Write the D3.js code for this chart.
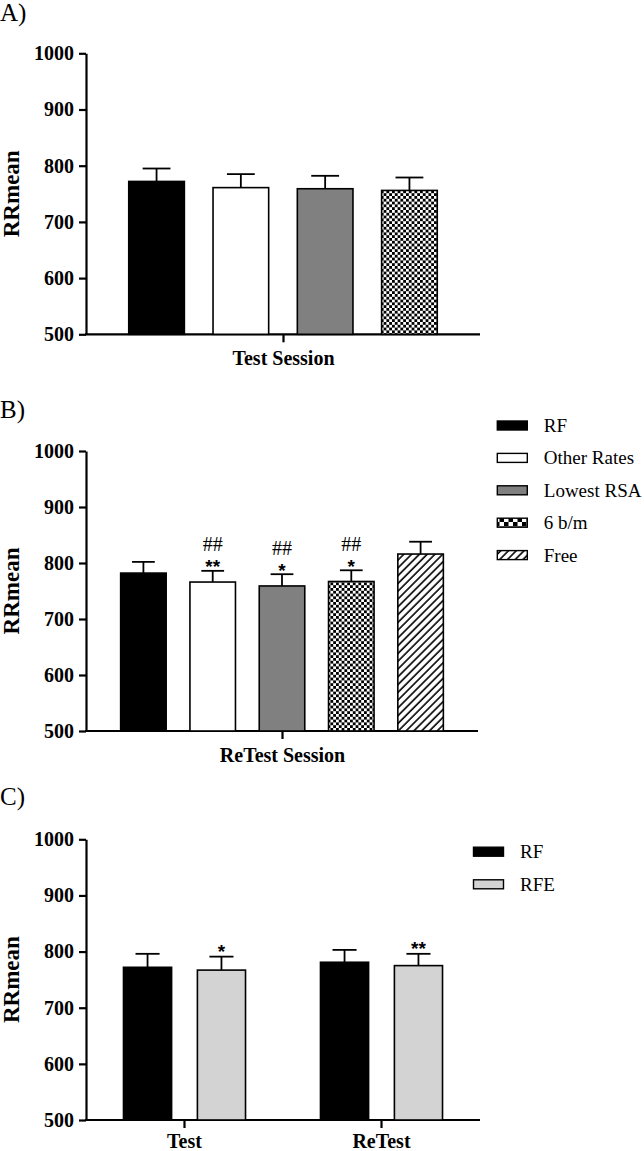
<!DOCTYPE html>
<html>
<head>
<meta charset="utf-8">
<script src="https://cdn.jsdelivr.net/npm/d3@7"></script>
<style>
  body { margin: 0; background: #fff; }
</style>
</head>
<body>
<script>
let w = 644;
let h = 1151;
let serif = "Liberation Serif, Times New Roman, serif";

// Data
let groups = ["RF", "Other Rates", "Lowest RSA", "6 b/m", "Free"];
let testMeans = [772, 761, 759, 756];
let testSem = [23, 24, 23, 23];
let retestMeans = [782, 766, 759, 767, 816];
let retestSem = [20, 20, 21, 20, 22];
let retestHash = ["", "##", "##", "##", ""];
let retestStars = ["", "**", "*", "*", ""];

let sessions = ["Test", "ReTest"];
let rfGroups = ["RF", "RFE"];
let rfMeans = [772, 781];
let rfSem = [24, 22];
let rfeMeans = [767, 775];
let rfeSem = [24, 21];
let rfeStars = ["*", "**"];

let yTicks = [500, 600, 700, 800, 900, 1000];

let fills = {
  "RF": "#000",
  "Other Rates": "#fff",
  "Lowest RSA": "#808080",
  "6 b/m": "url(#checker)",
  "Free": "url(#hatch)",
  "RFE": "#d3d3d3"
};
let legendFills = Object.assign({}, fills, { "6 b/m": "url(#checkerBig)" });

let svg = d3.select("body")
  .append("svg")
  .attr("width", w)
  .attr("height", h)
  .attr("font-family", serif);

// Patterns
let defs = svg.append("defs");
function checker(id, c) {
  let p = defs.append("pattern")
    .attr("id", id)
    .attr("patternUnits", "userSpaceOnUse")
    .attr("width", c * 2)
    .attr("height", c * 2);
  p.append("rect").attr("width", c * 2).attr("height", c * 2).attr("fill", "#fff");
  p.append("rect").attr("width", c).attr("height", c).attr("fill", "#000");
  p.append("rect").attr("x", c).attr("y", c).attr("width", c).attr("height", c).attr("fill", "#000");
}
checker("checker", 2.8);
checker("checkerBig", 4.5);

let hatch = defs.append("pattern")
  .attr("id", "hatch")
  .attr("patternUnits", "userSpaceOnUse")
  .attr("width", 5.5)
  .attr("height", 5.5)
  .attr("patternTransform", "rotate(45)");
hatch.append("rect").attr("width", 5.5).attr("height", 5.5).attr("fill", "#fff");
hatch.append("line")
  .attr("x1", 1).attr("y1", 0).attr("x2", 1).attr("y2", 5.5)
  .attr("stroke", "#000").attr("stroke-width", 1.6);

// Shared axis drawing
function drawAxes(top, bottom, left, right, xScale, letter, letterY, xPad) {
  let y = d3.scaleLinear().domain([500, 1000]).range([bottom, top]);

  let gy = svg.append("g")
    .attr("transform", "translate(" + left + ",0)")
    .call(d3.axisLeft(y).tickValues(yTicks).tickFormat(d3.format("d"))
      .tickSize(7).tickSizeOuter(0).tickPadding(5));
  gy.selectAll("path, line").attr("stroke", "#000").attr("stroke-width", 2.2);
  gy.selectAll("text")
    .attr("font-family", serif)
    .attr("font-weight", "bold")
    .attr("font-size", "20px")
    .attr("fill", "#000");

  let gx = svg.append("g")
    .attr("transform", "translate(0," + bottom + ")")
    .call(d3.axisBottom(xScale).tickSize(8).tickSizeOuter(0).tickPadding(xPad));
  gx.select("path").attr("d", "M" + (left - 1) + ",0H" + right);
  gx.selectAll("path, line").attr("stroke", "#000").attr("stroke-width", 2.2);
  gx.selectAll("text")
    .attr("font-family", serif)
    .attr("font-weight", "bold")
    .attr("font-size", "20px")
    .attr("fill", "#000");

  svg.append("text")
    .attr("transform", "translate(19," + (top + bottom) / 2 + ") rotate(-90)")
    .attr("text-anchor", "middle")
    .attr("font-weight", "bold")
    .attr("font-size", "23px")
    .text("RRmean");

  svg.append("text")
    .attr("x", 0)
    .attr("y", letterY)
    .attr("font-size", "25px")
    .text(letter);

  return y;
}

function drawBars(data, y, bandX, offset) {
  let bw = bandX.bandwidth();
  let g = svg.append("g");

  // error bars (upper only)
  g.selectAll("line.err")
    .data(data)
    .enter()
    .append("line")
    .attr("x1", d => offset(d) + bandX(d.key) + bw / 2)
    .attr("x2", d => offset(d) + bandX(d.key) + bw / 2)
    .attr("y1", d => y(d.value))
    .attr("y2", d => y(d.value + d.sem))
    .attr("stroke", "#000")
    .attr("stroke-width", 1.8);
  g.selectAll("line.cap")
    .data(data)
    .enter()
    .append("line")
    .attr("x1", d => offset(d) + bandX(d.key) + bw / 4)
    .attr("x2", d => offset(d) + bandX(d.key) + bw * 3 / 4)
    .attr("y1", d => y(d.value + d.sem))
    .attr("y2", d => y(d.value + d.sem))
    .attr("stroke", "#000")
    .attr("stroke-width", 1.8);

  g.selectAll("rect")
    .data(data)
    .enter()
    .append("rect")
    .attr("x", d => offset(d) + bandX(d.key))
    .attr("y", d => y(d.value))
    .attr("width", bw)
    .attr("height", d => y(500) - y(d.value))
    .attr("fill", d => fills[d.key])
    .attr("stroke", "#000")
    .attr("stroke-width", 1.6);

  // significance marks
  g.selectAll("text.hash")
    .data(data.filter(d => d.hash))
    .enter()
    .append("text")
    .attr("x", d => offset(d) + bandX(d.key) + bw / 2)
    .attr("y", d => y(d.value + d.sem) - 19.5)
    .attr("text-anchor", "middle")
    .attr("font-size", "20px")
    .text(d => d.hash);
  g.selectAll("text.star")
    .data(data.filter(d => d.star))
    .enter()
    .append("text")
    .attr("x", d => offset(d) + bandX(d.key) + bw / 2)
    .attr("y", d => y(d.value + d.sem) + d.starDy)
    .attr("text-anchor", "middle")
    .attr("font-family", "Liberation Sans, Arial, sans-serif")
    .attr("font-weight", "bold")
    .attr("font-size", "19px")
    .text(d => d.star);
}

function drawLegend(keys, x0, y0, step) {
  let lg = svg.append("g");
  lg.selectAll("rect")
    .data(keys)
    .enter()
    .append("rect")
    .attr("x", x0)
    .attr("y", (d, i) => y0 + i * step - 4.5)
    .attr("width", 30)
    .attr("height", 9)
    .attr("fill", d => legendFills[d])
    .attr("stroke", "#000")
    .attr("stroke-width", 1.4);
  lg.selectAll("text")
    .data(keys)
    .enter()
    .append("text")
    .attr("x", x0 + 46.5)
    .attr("y", (d, i) => y0 + i * step + 6.5)
    .attr("font-size", "19px")
    .text(d => d);
}

// Panel A
let xA = d3.scalePoint().domain(["Test Session"]).range([86, 480]).padding(0.5);
let yA = drawAxes(53.3, 334.3, 86, 480, xA, "A)", 21, 8.5);
let bandA = d3.scaleBand()
  .domain(groups.slice(0, 4))
  .range([86, 480])
  .paddingInner(0.34)
  .paddingOuter(0.507);
let dataA = testMeans.map((v, i) => ({ key: groups[i], value: v, sem: testSem[i] }));
drawBars(dataA, yA, bandA, d => 0);

// Panel B
let xB = d3.scalePoint().domain(["ReTest Session"]).range([86, 478]).padding(0.5);
let yB = drawAxes(451, 731, 86, 478, xB, "B)", 418, 8.5);
let bandB = d3.scaleBand()
  .domain(groups)
  .range([86, 478])
  .paddingInner(0.343)
  .paddingOuter(0.5);
let dataB = retestMeans.map((v, i) => ({
  key: groups[i], value: v, sem: retestSem[i],
  hash: retestHash[i], star: retestStars[i], starDy: 2.5
}));
drawBars(dataB, yB, bandB, d => 0);
drawLegend(groups, 497.3, 425.5, 32.4);

// Panel C
let xC = d3.scaleBand().domain(sessions).range([86, 480]).padding(0);
let yC = drawAxes(839.3, 1120, 86, 480, xC, "C)", 805, 6);
let bandC = d3.scaleBand()
  .domain(rfGroups)
  .range([0, xC.bandwidth()])
  .paddingInner(0.349)
  .paddingOuter(0.507);
let dataC = [];
sessions.forEach((s, i) => {
  dataC.push({ session: s, key: "RF", value: rfMeans[i], sem: rfSem[i] });
  dataC.push({ session: s, key: "RFE", value: rfeMeans[i], sem: rfeSem[i], star: rfeStars[i], starDy: 1 });
});
drawBars(dataC, yC, bandC, d => xC(d.session));
drawLegend(rfGroups, 473.5, 851.7, 32.6);
</script>
</body>
</html>
